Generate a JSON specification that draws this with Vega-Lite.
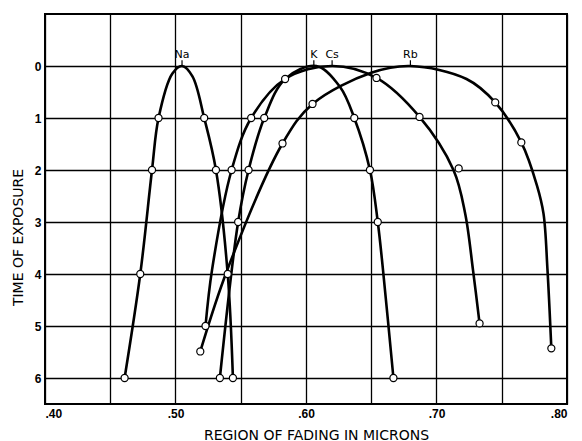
{
  "$schema": "https://vega.github.io/schema/vega-lite/v6.json",
  "width": 522,
  "height": 390,
  "autosize": "none",
  "padding": {"left": 45, "top": 14, "right": 15, "bottom": 37},
  "background": "white",
  "config": {
    "view": {"stroke": "black", "strokeWidth": 2},
    "axis": {
      "domain": false,
      "ticks": false,
      "grid": true,
      "gridColor": "black",
      "gridWidth": 1.3,
      "gridOpacity": 1,
      "labelFont": "Liberation Sans",
      "labelFontWeight": "bold",
      "labelFontSize": 12,
      "labelColor": "black",
      "titleFont": "DejaVu Sans",
      "titleFontWeight": "normal",
      "titleFontSize": 14,
      "titleColor": "black"
    }
  },
  "datasets": {
    "curves": [
      {"el": "Na", "x": 0.461, "y": 6, "c": true, "l": true},
      {"el": "Na", "x": 0.473, "y": 4, "c": true, "l": true},
      {"el": "Na", "x": 0.482, "y": 2, "c": true, "l": true},
      {"el": "Na", "x": 0.487, "y": 1, "c": true, "l": true},
      {"el": "Na", "x": 0.4975, "y": 0.15, "c": false, "l": true},
      {"el": "Na", "x": 0.505, "y": 0, "c": false, "l": true},
      {"el": "Na", "x": 0.513, "y": 0.2, "c": false, "l": true},
      {"el": "Na", "x": 0.522, "y": 1, "c": true, "l": true},
      {"el": "Na", "x": 0.531, "y": 2, "c": true, "l": true},
      {"el": "Na", "x": 0.540, "y": 4, "c": true, "l": true},
      {"el": "Na", "x": 0.544, "y": 6, "c": true, "l": true},
      {"el": "K", "x": 0.534, "y": 6, "c": true, "l": true},
      {"el": "K", "x": 0.548, "y": 3, "c": true, "l": true},
      {"el": "K", "x": 0.556, "y": 2, "c": true, "l": true},
      {"el": "K", "x": 0.568, "y": 1, "c": true, "l": true},
      {"el": "K", "x": 0.584, "y": 0.25, "c": false, "l": true},
      {"el": "K", "x": 0.608, "y": 0, "c": false, "l": true},
      {"el": "K", "x": 0.626, "y": 0.4, "c": false, "l": true},
      {"el": "K", "x": 0.637, "y": 1, "c": true, "l": true},
      {"el": "K", "x": 0.649, "y": 2, "c": true, "l": true},
      {"el": "K", "x": 0.655, "y": 3, "c": true, "l": true},
      {"el": "K", "x": 0.659, "y": 3.92, "c": false, "l": true},
      {"el": "K", "x": 0.667, "y": 6, "c": true, "l": true},
      {"el": "Cs", "x": 0.523, "y": 5, "c": true, "l": true},
      {"el": "Cs", "x": 0.528, "y": 3.92, "c": false, "l": true},
      {"el": "Cs", "x": 0.543, "y": 2, "c": true, "l": true},
      {"el": "Cs", "x": 0.558, "y": 1, "c": true, "l": true},
      {"el": "Cs", "x": 0.584, "y": 0.25, "c": true, "l": true},
      {"el": "Cs", "x": 0.620, "y": 0, "c": false, "l": true},
      {"el": "Cs", "x": 0.654, "y": 0.23, "c": true, "l": true},
      {"el": "Cs", "x": 0.687, "y": 0.98, "c": true, "l": true},
      {"el": "Cs", "x": 0.713, "y": 2, "c": false, "l": true},
      {"el": "Cs", "x": 0.717, "y": 1.97, "c": true, "l": false},
      {"el": "Cs", "x": 0.722, "y": 2.84, "c": false, "l": true},
      {"el": "Cs", "x": 0.728, "y": 3.93, "c": false, "l": true},
      {"el": "Cs", "x": 0.733, "y": 4.95, "c": true, "l": true},
      {"el": "Rb", "x": 0.519, "y": 5.49, "c": true, "l": true},
      {"el": "Rb", "x": 0.540, "y": 3.9, "c": false, "l": true},
      {"el": "Rb", "x": 0.582, "y": 1.49, "c": true, "l": true},
      {"el": "Rb", "x": 0.605, "y": 0.73, "c": true, "l": true},
      {"el": "Rb", "x": 0.650, "y": 0.13, "c": false, "l": true},
      {"el": "Rb", "x": 0.680, "y": 0, "c": false, "l": true},
      {"el": "Rb", "x": 0.723, "y": 0.25, "c": false, "l": true},
      {"el": "Rb", "x": 0.745, "y": 0.7, "c": true, "l": true},
      {"el": "Rb", "x": 0.765, "y": 1.47, "c": true, "l": true},
      {"el": "Rb", "x": 0.777, "y": 2.3, "c": false, "l": true},
      {"el": "Rb", "x": 0.782, "y": 2.84, "c": false, "l": true},
      {"el": "Rb", "x": 0.785, "y": 3.9, "c": false, "l": true},
      {"el": "Rb", "x": 0.788, "y": 5.43, "c": true, "l": true}
    ],
    "labels": [
      {"label": "Na", "x": 0.505},
      {"label": "K", "x": 0.606},
      {"label": "Cs", "x": 0.620},
      {"label": "Rb", "x": 0.680}
    ]
  },
  "layer": [
    {
      "data": {"name": "curves"},
      "transform": [{"filter": "datum.l"}],
      "mark": {"type": "line", "interpolate": "catmull-rom", "color": "black", "strokeWidth": 2.6},
      "encoding": {
        "x": {
          "field": "x", "type": "quantitative",
          "scale": {"domain": [0.4, 0.8], "nice": false, "zero": false},
          "axis": {
            "values": [0.4, 0.45, 0.5, 0.55, 0.6, 0.65, 0.7, 0.75, 0.8],
            "labelExpr": "round(datum.value*100) % 10 == 0 ? replace(format(datum.value, '.2f'), '0.', '.') : ''",
            "labelPadding": 4,
            "title": "REGION OF FADING IN MICRONS",
            "titleX": 271,
            "titleY": 38,
            "titleBaseline": "bottom",
            "titleAnchor": null
          }
        },
        "y": {
          "field": "y", "type": "quantitative",
          "scale": {"domain": [-1, 6.5], "reverse": true, "nice": false, "zero": false},
          "axis": {
            "values": [0, 1, 2, 3, 4, 5, 6],
            "labelPadding": 4,
            "title": "TIME OF EXPOSURE",
            "titleX": -20,
            "titleY": 223,
            "titleAngle": -90,
            "titleAlign": "center",
            "titleBaseline": "bottom"
          }
        },
        "detail": {"field": "el"},
        "order": {"field": "x", "type": "quantitative"}
      }
    },
    {
      "data": {"name": "curves"},
      "transform": [{"filter": "datum.c"}],
      "mark": {"type": "point", "shape": "circle", "filled": true, "fill": "white", "stroke": "black", "strokeWidth": 1.2, "size": 50, "opacity": 1},
      "encoding": {
        "x": {"field": "x", "type": "quantitative"},
        "y": {"field": "y", "type": "quantitative"}
      }
    },
    {
      "data": {"name": "labels"},
      "mark": {"type": "rule", "color": "black", "strokeWidth": 1.2},
      "encoding": {
        "x": {"field": "x", "type": "quantitative"},
        "y": {"datum": -0.11},
        "y2": {"datum": 0}
      }
    },
    {
      "data": {"name": "labels"},
      "mark": {"type": "text", "font": "DejaVu Sans", "fontSize": 11, "baseline": "bottom", "dy": 0},
      "encoding": {
        "x": {"field": "x", "type": "quantitative"},
        "y": {"datum": -0.11},
        "text": {"field": "label"}
      }
    }
  ]
}
